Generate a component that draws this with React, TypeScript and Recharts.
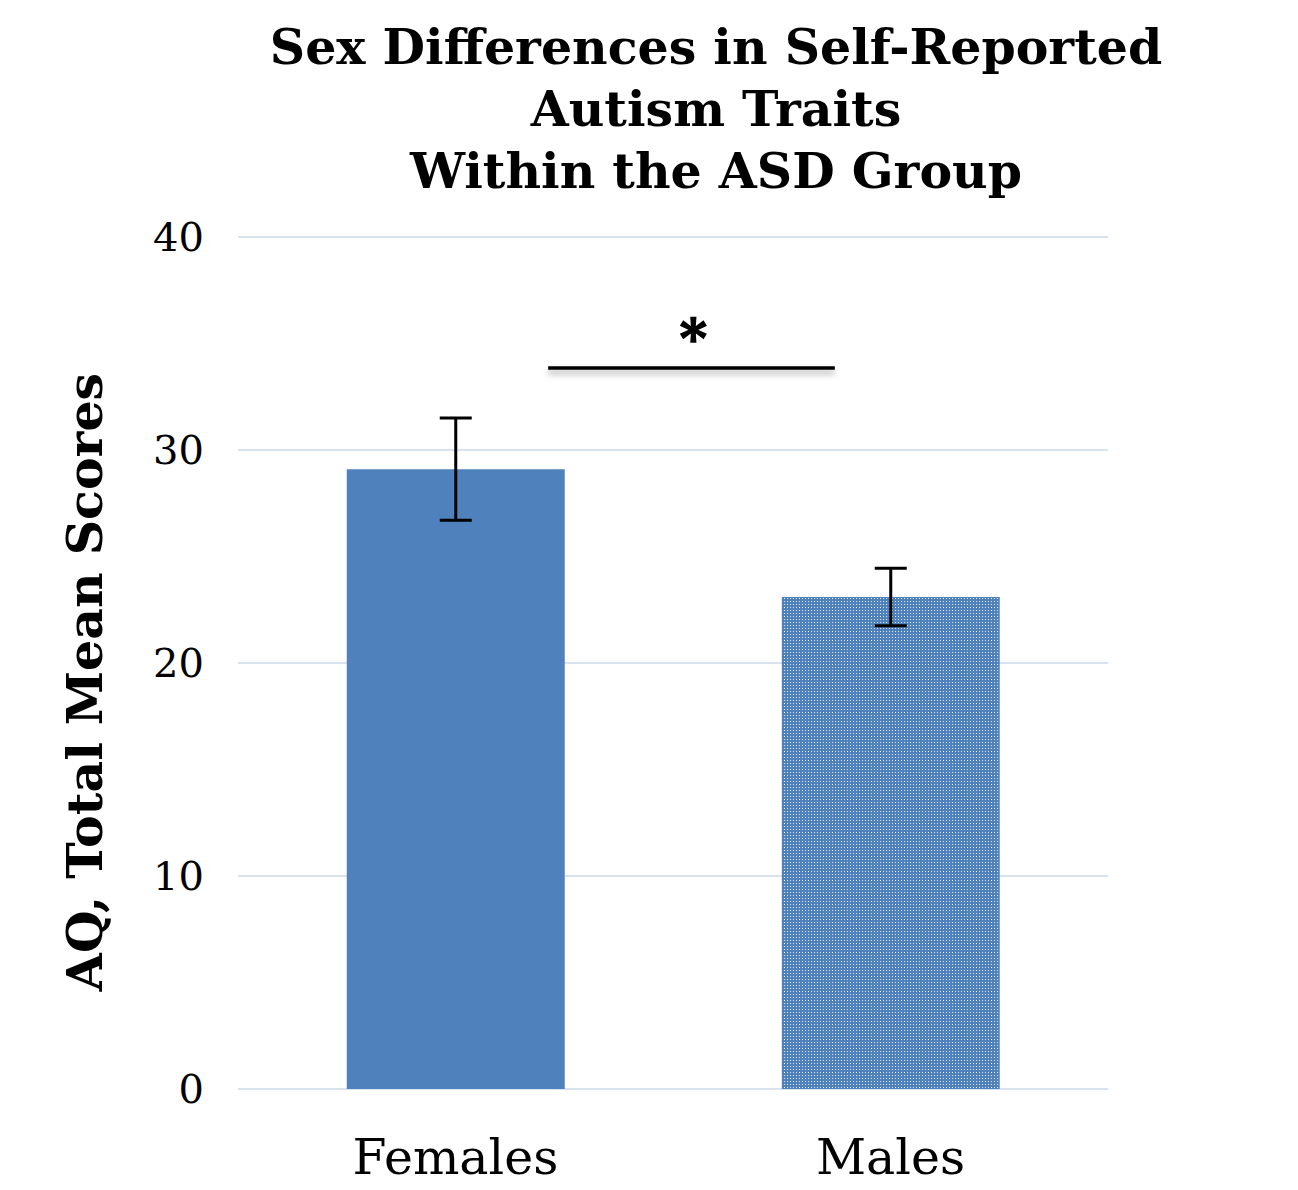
import React from 'react';
import {
  BarChart,
  Bar,
  Cell,
  XAxis,
  YAxis,
  CartesianGrid,
  ErrorBar,
  ReferenceLine,
  ReferenceDot
} from 'recharts';

// AQ totals by sex within the ASD group
const groups = ['Females', 'Males'];
const meanScores = [29.1, 23.1];
const errorSizes = [2.4, 1.35];
const yTicks = [0, 10, 20, 30, 40];

// significance bracket, on a 0..2 numeric axis laid over the two categories
const sigStart = 0.713;
const sigEnd = 1.372;
const sigLevel = 33.85;
const sigMark = '*';

const titleLines = ['Sex Differences in Self-Reported', 'Autism Traits', 'Within the ASD Group'];
const yTitle = 'AQ, Total Mean Scores';

const data = groups.map((g, i) => ({ group: g, pos: i + 0.5, mean: meanScores[i], err: errorSizes[i] }));

const SERIF = '"DejaVu Serif", "Liberation Serif", serif';
const BLUE = '#4f81bd';

const App: React.FC = () => {
  return (
    <div style={{ position: 'absolute', left: 0, top: 0, width: 1298, height: 1190, background: '#fff' }}>
      <div
        style={{
          position: 'absolute',
          left: 166,
          top: 16,
          width: 1100,
          textAlign: 'center',
          fontFamily: SERIF,
          fontWeight: 'bold',
          fontSize: 49,
          lineHeight: '62px',
          color: '#000'
        }}
      >
        {titleLines.map((t) => (
          <div key={t}>{t}</div>
        ))}
      </div>
      <BarChart
        width={1298}
        height={1190}
        data={data}
        margin={{ top: 237, right: 190, bottom: 71, left: 0 }}
        barCategoryGap="25%"
      >
        <defs>
          <pattern id="dots" width="3" height="3" patternUnits="userSpaceOnUse">
            <rect width="3" height="3" fill={BLUE} />
            <rect x="1" y="1" width="1" height="1" fill="#dfe8f4" />
          </pattern>
          <filter id="lineShadow" filterUnits="userSpaceOnUse" x="0" y="300" width="1298" height="120">
            <feDropShadow dx="0" dy="4" stdDeviation="3" floodColor="#000" floodOpacity="0.35" />
          </filter>
        </defs>
        <CartesianGrid vertical={false} stroke="#d9e3f0" strokeWidth={2} />
        <XAxis
          dataKey="group"
          axisLine={false}
          tickLine={false}
          tick={{ fontSize: 49, fontFamily: SERIF, fill: '#000' }}
          dy={42}
        />
        <XAxis
          xAxisId="sig"
          dataKey="pos"
          type="number"
          domain={[0, 2]}
          allowDataOverflow
          hide
        />
        <YAxis
          domain={[0, 40]}
          ticks={yTicks}
          width={238}
          axisLine={false}
          tickLine={false}
          tick={{ fontSize: 40, fontFamily: SERIF, fill: '#000' }}
          dx={-26}
          label={{
            content: () => (
              <text
                x={85}
                y={682}
                transform="rotate(-90 85 682)"
                textAnchor="middle"
                dominantBaseline="central"
                fontFamily={SERIF}
                fontWeight="bold"
                fontSize={49}
                fill="#000"
              >
                {yTitle}
              </text>
            )
          }}
        />
        <Bar dataKey="mean" isAnimationActive={false}>
          {data.map((d, i) => (
            <Cell key={d.group} fill={i === 0 ? BLUE : 'url(#dots)'} />
          ))}
          <ErrorBar dataKey="err" width={16} stroke="#000" strokeWidth={3} />
        </Bar>
        <ReferenceLine
          xAxisId="sig"
          ifOverflow="visible"
          segment={[
            { x: sigStart, y: sigLevel },
            { x: sigEnd, y: sigLevel }
          ]}
          stroke="#000"
          strokeWidth={3.5}
          style={{ filter: 'url(#lineShadow)' }}
        />
        <ReferenceDot
          xAxisId="sig"
          ifOverflow="visible"
          x={(sigStart + sigEnd) / 2 + 0.004}
          y={sigLevel}
          r={1}
          fill="none"
          stroke="none"
          label={{
            value: sigMark,
            position: 'top',
            offset: 10,
            fontSize: 52,
            fontWeight: 'bold',
            fontFamily: SERIF,
            fill: '#000',
            stroke: '#000',
            strokeWidth: 1.5
          }}
        />
      </BarChart>
    </div>
  );
};

export default App;
